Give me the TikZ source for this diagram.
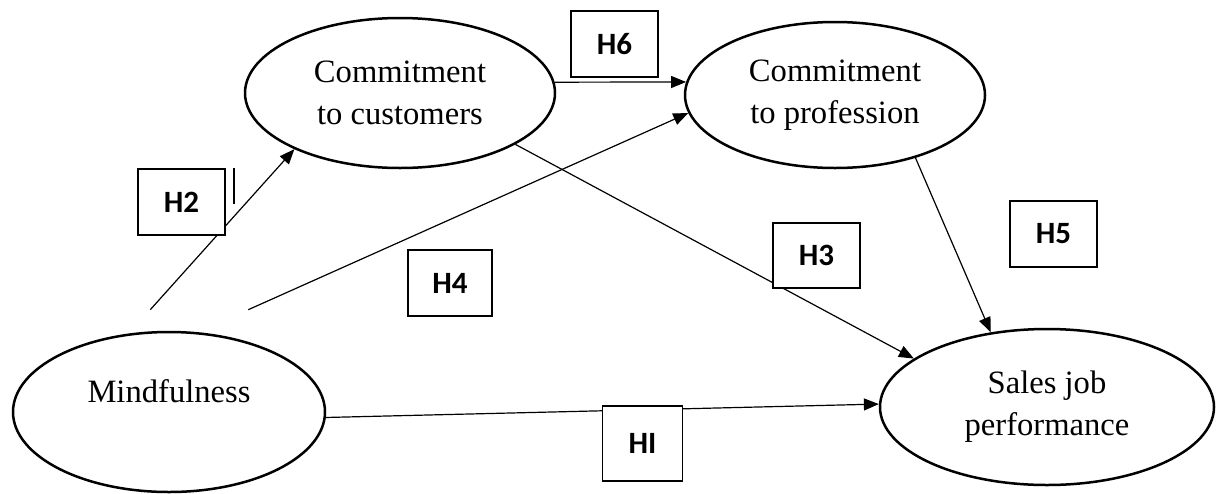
\documentclass[tikz,border=0pt]{standalone}
\usepackage{fontspec}
\setmainfont{Liberation Serif}
\newfontfamily\hfont{Carlito}
\usetikzlibrary{positioning,shapes.geometric,arrows.meta}

\tikzset{
    latent/.style={ellipse, draw, line width=2.5pt, align=center, inner sep=0pt,
        font=\fontsize{32.6}{42}\selectfont},
    hyp/.style={rectangle, draw, fill=white, line width=1.5pt, inner sep=0pt,
        minimum width=87pt, minimum height=66pt,
        font=\hfont\bfseries\fontsize{31}{37}\selectfont},
    link/.style={-{Triangle[length=15pt,width=12pt]}, line width=1.2pt},
}

\begin{document}
\begin{tikzpicture}[x=1pt, y=-1pt]

    \useasboundingbox (0,0) rectangle (1217,493);

    \node[latent, minimum width=312pt, minimum height=160pt,
        label={[font=\fontsize{32.6}{42}\selectfont, yshift=21pt]center:Mindfulness}]
        (mind) at (169,412) {};
    \node[latent, minimum width=310pt, minimum height=150pt] (cust) at (400,93)
    {Commitment\\to customers};
    \node[latent, minimum width=300pt, minimum height=146pt] (prof) at (835,95)
    {Commitment\\to profession};
    \node[latent, minimum width=334pt, minimum height=156pt] (sales) at (1047,407)
    {Sales job\\performance};

    \draw[link, shorten <=32pt] (mind.117) -- (cust.208);
    \draw[link, shorten <=55pt] (mind.70) -- (prof.187);
    \draw[link] (cust.4) -- (prof.175);
    \draw[link] (cust.336) -- (sales.160);
    \draw[link] (prof.322) -- (sales.127);
    \draw[link] (mind.358) -- (sales.179);

    \node[hyp] (h6) at (614.5,44) {H6};
    \node[hyp] (h2) at (181.5,202) {H2};
    \node[hyp, minimum width=84pt] (h4) at (450,283) {H4};
    \node[hyp, minimum height=65pt] (h3) at (816.5,255.5) {H3};
    \node[hyp] (h5) at (1053.5,234) {H5};
    \node[hyp, minimum width=80pt, minimum height=75pt] (hI) at (642.5,443.5) {HI};

    \draw[line width=1.5pt] ([xshift=8pt]h2.north east) -- ++(0,36);

\end{tikzpicture}
\end{document}
